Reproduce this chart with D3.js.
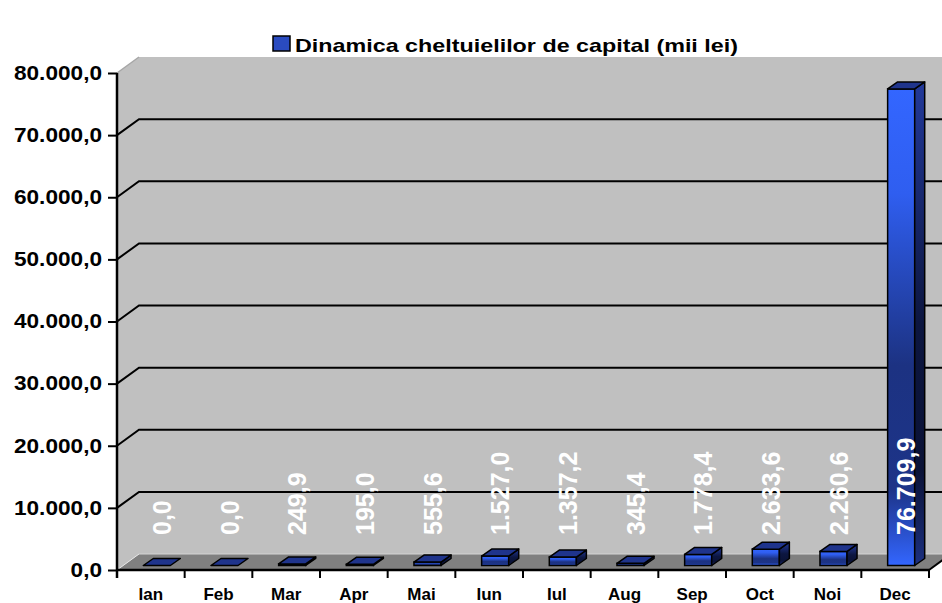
<!DOCTYPE html>
<html>
<head>
<meta charset="utf-8">
<script src="https://cdn.jsdelivr.net/npm/d3@7"></script>
<style>
  body { margin: 0; background: #fff; }
  svg { display: block; font-family: "Liberation Sans", Arial, sans-serif; }
</style>
</head>
<body>
<svg></svg>
<script>
var width = 942;
var height = 603;

// data
var months = ["Ian", "Feb", "Mar", "Apr", "Mai", "Iun", "Iul", "Aug", "Sep", "Oct", "Noi", "Dec"];
var values = [0, 0, 249.9, 195.0, 555.6, 1527.0, 1357.2, 345.4, 1778.4, 2633.6, 2260.6, 76709.9];
var yTicks = [0, 10000, 20000, 30000, 40000, 50000, 60000, 70000, 80000];
var seriesName = "Dinamica cheltuielilor de capital (mii lei)";

var ro = d3.formatLocale({ decimal: ",", thousands: ".", grouping: [3], currency: ["", ""] });
var fmt = ro.format(",.1f");

var svg = d3.select('svg')
    .attr('width', width)
    .attr('height', height);

//..................................................................................//
// geometry of the 3d box
var plotL = 117, plotR = 929, plotB = 570, plotT = 73;
var dx = 22, dy = -16;          // depth of the walls
var bdx = 10, bdy = -7;         // depth of a bar
var off = 6, offy = -4.5;       // bar sits in the middle of the depth

var x = d3.scaleBand().domain(months).range([plotL, plotR]);
var y = d3.scaleLinear().domain([0, 80000]).range([plotB, plotT]);

var defs = svg.append('defs');

var gFront = defs.append('linearGradient').attr('id', 'gFront')
    .attr('x1', 0).attr('y1', 0).attr('x2', 0).attr('y2', 1);
[[0, '#3366ff'], [0.22, '#2f5ef0'], [0.58, '#1c3282'], [0.84, '#1d3488'], [1, '#3366ff']].forEach(function (s) {
    gFront.append('stop').attr('offset', s[0]).attr('stop-color', s[1]);
});
var gSide = defs.append('linearGradient').attr('id', 'gSide')
    .attr('x1', 0).attr('y1', 0).attr('x2', 0).attr('y2', 1);
[[0, '#22399a'], [0.5, '#0c1640'], [0.8, '#0a1236'], [1, '#1c3080']].forEach(function (s) {
    gSide.append('stop').attr('offset', s[0]).attr('stop-color', s[1]);
});

// walls
svg.append('polygon')
    .attr('points', [[plotL, plotB], [plotL, plotT], [plotL + dx, plotT + dy], [width + 20, plotT + dy], [width + 20, plotB + dy], [plotL + dx, plotB + dy]].join(' '))
    .attr('fill', '#c0c0c0');

// floor
svg.append('polygon')
    .attr('points', [[plotL, plotB], [plotL + dx, plotB + dy], [plotR + dx, plotB + dy], [plotR, plotB]].join(' '))
    .attr('fill', '#808080');
svg.append('line')
    .attr('x1', plotL + dx).attr('y1', plotB + dy).attr('x2', width).attr('y2', plotB + dy)
    .attr('stroke', '#d4d4d4').attr('stroke-width', 1);
svg.append('line')
    .attr('x1', plotL).attr('y1', plotB).attr('x2', plotL + dx).attr('y2', plotB + dy)
    .attr('stroke', '#e6e6e6').attr('stroke-width', 1);
svg.append('line')
    .attr('x1', plotL).attr('y1', plotT).attr('x2', plotL + dx).attr('y2', plotT + dy)
    .attr('stroke', '#a6a6a6').attr('stroke-width', 1.5);
svg.append('line')
    .attr('x1', plotR).attr('y1', plotB).attr('x2', plotR + dx).attr('y2', plotB + dy)
    .attr('stroke', '#000').attr('stroke-width', 2);

// gridlines
svg.append('g').selectAll('path')
    .data(yTicks.filter(function (t) { return t > 0 && t < 80000; }))
    .enter()
    .append('path')
    .attr('d', function (t) {
        return 'M' + plotL + ',' + y(t) + 'L' + (plotL + dx) + ',' + (y(t) + dy) + 'L' + width + ',' + (y(t) + dy);
    })
    .attr('fill', 'none')
    .attr('stroke', '#000')
    .attr('stroke-width', 2);

// bars
var bw = x.bandwidth() * 0.4;
var bars = svg.append('g').selectAll('g')
    .data(values)
    .enter()
    .append('g');

bars.each(function (v, i) {
    var g = d3.select(this);
    var x0 = x(months[i]) + x.bandwidth() / 2 - bw / 2 + off;
    var yb = y(0) + offy;
    var yt = y(v) + offy;
    if (yb - yt > 0.5) {
        g.append('rect')
            .attr('x', x0).attr('y', yt)
            .attr('width', bw).attr('height', yb - yt)
            .attr('fill', 'url(#gFront)')
            .attr('stroke', '#000').attr('stroke-width', 1.5);
        g.append('polygon')
            .attr('points', [[x0 + bw, yt], [x0 + bw + bdx, yt + bdy], [x0 + bw + bdx, yb + bdy], [x0 + bw, yb]].join(' '))
            .attr('fill', 'url(#gSide)')
            .attr('stroke', '#000').attr('stroke-width', 1.5).attr('stroke-linejoin', 'round');
    }
    g.append('polygon')
        .attr('points', [[x0, yt], [x0 + bdx, yt + bdy], [x0 + bw + bdx, yt + bdy], [x0 + bw, yt]].join(' '))
        .attr('fill', '#1f348c')
        .attr('stroke', '#000').attr('stroke-width', 1.5).attr('stroke-linejoin', 'round');
});

// value labels
svg.append('g').selectAll('text')
    .data(values)
    .enter()
    .append('text')
    .attr('transform', function (v, i) {
        return 'translate(' + (x(months[i]) + x.bandwidth() / 2 + 11) + ',' + 535 + ') rotate(-90)';
    })
    .attr('dy', '0.36em')
    .attr('fill', '#fff')
    .attr('font-size', 25)
    .attr('font-weight', 'bold')
    .text(function (v) { return fmt(v); });

// y axis
var yAxis = svg.append('g')
    .attr('transform', 'translate(' + plotL + ',0)')
    .call(d3.axisLeft(y).tickValues(yTicks).tickFormat(fmt).tickSize(9).tickPadding(6));
yAxis.select('.domain').attr('stroke', '#000').attr('stroke-width', 2.5)
    .attr('d', 'M0,' + plotT + 'V' + (plotB + 8));
yAxis.selectAll('.tick line').attr('stroke', '#000').attr('stroke-width', 2);
yAxis.selectAll('.tick text')
    .attr('fill', '#000')
    .attr('font-size', 19.5)
    .attr('font-weight', 'bold')
    .attr('font-family', '"Liberation Sans", Arial, sans-serif')
    .each(function () {
        var w = this.getComputedTextLength();
        d3.select(this).attr('textLength', w * 1.16).attr('lengthAdjust', 'spacingAndGlyphs');
    });

// x axis
svg.append('line')
    .attr('x1', plotL).attr('y1', plotB).attr('x2', plotR).attr('y2', plotB)
    .attr('stroke', '#000').attr('stroke-width', 2.5);
svg.append('g').selectAll('line')
    .data(months.concat(['end']))
    .enter()
    .append('line')
    .attr('x1', function (m, i) { return plotL + i * x.step(); })
    .attr('x2', function (m, i) { return plotL + i * x.step(); })
    .attr('y1', plotB).attr('y2', plotB + 8)
    .attr('stroke', '#000').attr('stroke-width', 2);
svg.append('g').selectAll('text')
    .data(months)
    .enter()
    .append('text')
    .attr('x', function (m) { return x(m) + x.bandwidth() / 2; })
    .attr('y', 600)
    .attr('text-anchor', 'middle')
    .attr('font-size', 17)
    .attr('font-weight', 'bold')
    .text(function (m) { return m; });

// title with legend key
svg.append('rect')
    .attr('x', 273).attr('y', 36).attr('width', 17).attr('height', 15)
    .attr('fill', '#2a4bc0').attr('stroke', '#000').attr('stroke-width', 1.5);
var title = svg.append('text')
    .attr('x', 295).attr('y', 52)
    .attr('font-size', 19)
    .attr('font-weight', 'bold')
    .text(seriesName);
title.attr('textLength', 443).attr('lengthAdjust', 'spacingAndGlyphs');
</script>
</body>
</html>
